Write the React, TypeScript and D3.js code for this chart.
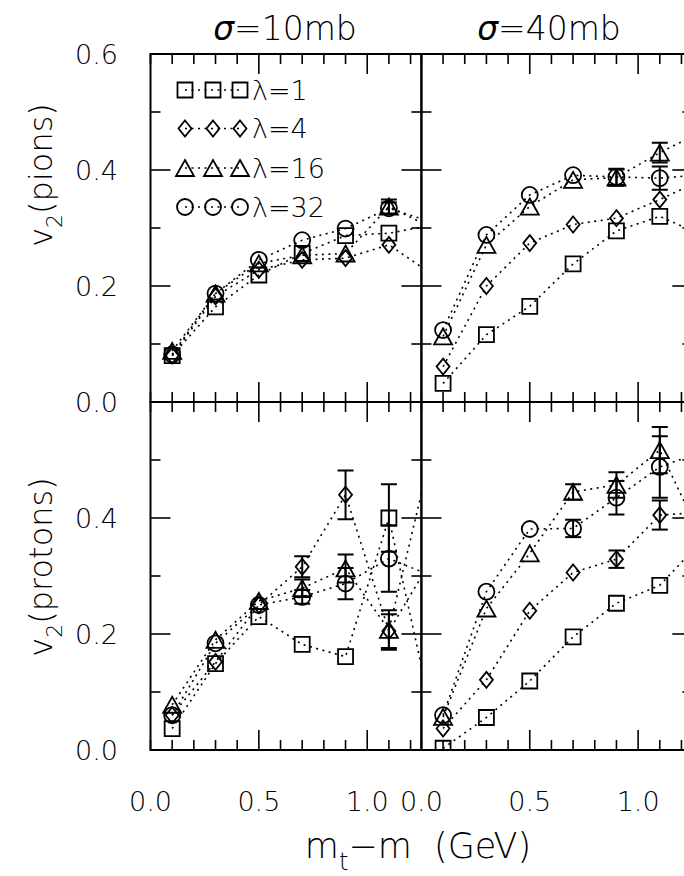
import React from 'react';
import * as d3 from 'd3';

// ---------- data ----------
const mtm = [0.1, 0.3, 0.5, 0.7, 0.9, 1.1, 1.3];
const seriesLabels = ['λ=1', 'λ=4', 'λ=16', 'λ=32'];
const seriesMarkers = ['square', 'diamond', 'triangle', 'circle'];
const sigmaLabels = ['10mb', '40mb'];
const xTickValues = [0, 0.5, 1.0];
const xTickLabels = ['0.0', '0.5', '1.0'];
const yTickValuesTop = [0, 0.2, 0.4, 0.6];
const yTickLabelsTop = ['0.0', '0.2', '0.4', '0.6'];
const yTickValuesBottom = [0, 0.2, 0.4];
const yTickLabelsBottom = ['0.0', '0.2', '0.4'];

// pions, sigma = 10 mb
const pi10_l1 = [0.080, 0.164, 0.219, 0.256, 0.287, 0.291, 0.305];
const pi10_l4 = [0.080, 0.182, 0.228, 0.245, 0.248, 0.271, 0.220];
const pi10_l16 = [0.088, 0.187, 0.239, 0.253, 0.256, 0.337, 0.300];
const pi10_l32 = [0.082, 0.187, 0.245, 0.279, 0.299, 0.334, 0.310];
const pi10_e1 = [0, 0, 0, 0, 0, 0, 0];
const pi10_e4 = [0, 0, 0, 0, 0, 0, 0];
const pi10_e16 = [0, 0, 0, 0, 0, 0.012, 0];
const pi10_e32 = [0, 0, 0, 0, 0, 0.010, 0];

// pions, sigma = 40 mb
const pi40_l1 = [0.032, 0.116, 0.165, 0.238, 0.295, 0.320, 0.287];
const pi40_l4 = [0.061, 0.200, 0.274, 0.306, 0.317, 0.349, 0.384];
const pi40_l16 = [0.113, 0.271, 0.337, 0.383, 0.387, 0.430, 0.467];
const pi40_l32 = [0.124, 0.288, 0.357, 0.391, 0.388, 0.386, 0.392];
const pi40_e1 = [0, 0, 0, 0, 0, 0, 0];
const pi40_e4 = [0, 0, 0, 0, 0, 0, 0];
const pi40_e16 = [0, 0, 0, 0, 0.014, 0.017, 0];
const pi40_e32 = [0, 0, 0, 0, 0.014, 0.020, 0];

// protons, sigma = 10 mb
const pr10_l1 = [0.037, 0.149, 0.230, 0.182, 0.161, 0.400, 0.060];
const pr10_l4 = [0.060, 0.152, 0.250, 0.316, 0.440, 0.205, 0.330];
const pr10_l16 = [0.078, 0.190, 0.257, 0.279, 0.313, 0.207, 0.520];
const pr10_l32 = [0.060, 0.184, 0.250, 0.264, 0.287, 0.330, 0.300];
const pr10_e1 = [0, 0, 0, 0, 0, 0.058, 0];
const pr10_e4 = [0, 0, 0, 0.018, 0.042, 0.029, 0];
const pr10_e16 = [0, 0, 0, 0.015, 0.024, 0.034, 0];
const pr10_e32 = [0, 0, 0, 0.012, 0.027, 0.057, 0];

// protons, sigma = 40 mb
const pr40_l1 = [0.003, 0.056, 0.119, 0.195, 0.253, 0.284, 0.363];
const pr40_l4 = [0.037, 0.121, 0.240, 0.306, 0.329, 0.405, 0.410];
const pr40_l16 = [0.057, 0.244, 0.339, 0.445, 0.457, 0.517, 0.360];
const pr40_l32 = [0.060, 0.273, 0.381, 0.382, 0.435, 0.488, 0.515];
const pr40_e1 = [0, 0, 0, 0, 0, 0, 0];
const pr40_e4 = [0, 0, 0, 0, 0.015, 0.025, 0];
const pr40_e16 = [0, 0, 0, 0.013, 0.022, 0.040, 0];
const pr40_e32 = [0, 0, 0, 0.015, 0.029, 0.053, 0];

// ---------- layout ----------
const W = 684;
const H = 876;
const FONT = "'DejaVu Sans', sans-serif";
const xDomain = [0, 1.25];
const yDomain = [0, 0.6];
const xLeft = d3.scaleLinear().domain(xDomain).range([150.5, 421.4]);
const xRight = d3.scaleLinear().domain(xDomain).range([421.4, 692.3]);
const yTop = d3.scaleLinear().domain(yDomain).range([402, 54]);
const yBot = d3.scaleLinear().domain(yDomain).range([750, 402]);

const panels = [
  { id: 'tl', x: xLeft, y: yTop, vals: [pi10_l1, pi10_l4, pi10_l16, pi10_l32], errs: [pi10_e1, pi10_e4, pi10_e16, pi10_e32] },
  { id: 'tr', x: xRight, y: yTop, vals: [pi40_l1, pi40_l4, pi40_l16, pi40_l32], errs: [pi40_e1, pi40_e4, pi40_e16, pi40_e32] },
  { id: 'bl', x: xLeft, y: yBot, vals: [pr10_l1, pr10_l4, pr10_l16, pr10_l32], errs: [pr10_e1, pr10_e4, pr10_e16, pr10_e32] },
  { id: 'br', x: xRight, y: yBot, vals: [pr40_l1, pr40_l4, pr40_l16, pr40_l32], errs: [pr40_e1, pr40_e4, pr40_e16, pr40_e32] },
];

function markerPath(type: string, cx: number, cy: number): string {
  if (type === 'square') {
    const h = 7.5;
    return `M${cx - h},${cy - h}H${cx + h}V${cy + h}H${cx - h}Z`;
  }
  if (type === 'diamond') {
    const w = 6.5, h = 8;
    return `M${cx},${cy - h}L${cx + w},${cy}L${cx},${cy + h}L${cx - w},${cy}Z`;
  }
  if (type === 'triangle') {
    const w = 9, h = 8;
    return `M${cx},${cy - h}L${cx + w},${cy + h}L${cx - w},${cy + h}Z`;
  }
  const r = 8;
  return `M${cx - r},${cy}A${r},${r} 0 1,0 ${cx + r},${cy}A${r},${r} 0 1,0 ${cx - r},${cy}Z`;
}

const DOT = '2 4.5';

function Panel({ p }: { p: any }) {
  const [x0, x1] = p.x.range();
  const [y0, y1] = p.y.range();
  const line = d3.line<[number, number]>().x(d => p.x(d[0])).y(d => p.y(d[1]));
  const xt = d3.range(0, 13).map(i => i / 10);
  const yt = d3.range(0, 7).map(i => i / 10);
  const isMajorX = (v: number) => Math.abs(v - 0.5) < 1e-6 || Math.abs(v - 1.0) < 1e-6;
  const isMajorY = (v: number) => Math.round(v * 10) % 2 === 0;
  return (
    <g>
      <defs>
        <clipPath id={`clip-${p.id}`}>
          <rect x={x0} y={y1} width={x1 - x0} height={y0 - y1} />
        </clipPath>
      </defs>
      <g clipPath={`url(#clip-${p.id})`}>
        {p.vals.map((vals: number[], si: number) => (
          <path key={`l${si}`} d={line(mtm.map((m, i) => [m, vals[i]]) as any) || ''}
            fill="none" stroke="#000" strokeWidth={1.6} strokeDasharray={DOT} />
        ))}
        {p.vals.map((vals: number[], si: number) => (
          <g key={`e${si}`}>
            {vals.map((v, i) => {
              const e = p.errs[si][i];
              if (!e) return null;
              const cx = p.x(mtm[i]);
              return (
                <g key={i} stroke="#000" strokeWidth={2}>
                  <line x1={cx} x2={cx} y1={p.y(v - e)} y2={p.y(v + e)} />
                  <line x1={cx - 8} x2={cx + 8} y1={p.y(v - e)} y2={p.y(v - e)} />
                  <line x1={cx - 8} x2={cx + 8} y1={p.y(v + e)} y2={p.y(v + e)} />
                </g>
              );
            })}
          </g>
        ))}
        {p.vals.map((vals: number[], si: number) => (
          <g key={`m${si}`}>
            {vals.map((v, i) => (
              <path key={i} d={markerPath(seriesMarkers[si], p.x(mtm[i]), p.y(v))}
                fill="none" stroke="#000" strokeWidth={1.8} />
            ))}
          </g>
        ))}
      </g>
      <rect x={x0} y={y1} width={x1 - x0} height={y0 - y1} fill="none" stroke="#000" strokeWidth={2} />
      <g stroke="#000" strokeWidth={1.6}>
        {xt.map((v, i) => {
          const L = isMajorX(v) ? 20 : 10;
          const xx = p.x(v);
          return (
            <g key={`xt${i}`}>
              <line x1={xx} x2={xx} y1={y0} y2={y0 - L} />
              <line x1={xx} x2={xx} y1={y1} y2={y1 + L} />
            </g>
          );
        })}
        {yt.map((v, i) => {
          const L = isMajorY(v) ? 20 : 10;
          const yy = p.y(v);
          return (
            <g key={`yt${i}`}>
              <line x1={x0} x2={x0 + L} y1={yy} y2={yy} />
              <line x1={x1} x2={x1 - L} y1={yy} y2={yy} />
            </g>
          );
        })}
      </g>
    </g>
  );
}

export default function App() {
  const legendY = [90, 128.5, 168, 207];
  const legendX = [185, 213, 240];
  return (
    <svg width={W} height={H} viewBox={`0 0 ${W} ${H}`}
      style={{ position: 'absolute', left: 0, top: 0, background: '#fff' }}
      fontFamily={FONT} fontWeight={200}>
      <rect x={0} y={0} width={W} height={H} fill="#fff" />
      {panels.map(p => <Panel key={p.id} p={p} />)}

      {/* legend */}
      {seriesLabels.map((lab, si) => (
        <g key={lab}>
          <line x1={legendX[0]} x2={legendX[2]} y1={legendY[si]} y2={legendY[si]}
            stroke="#000" strokeWidth={1.6} strokeDasharray={DOT} />
          {legendX.map((lx, k) => (
            <path key={k} d={markerPath(seriesMarkers[si], lx, legendY[si])} fill="none" stroke="#000" strokeWidth={1.8} />
          ))}
          <text x={252} y={legendY[si]} dy="0.36em" fontSize={27}>{lab}</text>
        </g>
      ))}

      {/* titles */}
      {sigmaLabels.map((s, i) => (
        <text key={s} x={i === 0 ? 285 : 549} y={40} textAnchor="middle" fontSize={33}>
          <tspan fontStyle="italic" fontWeight={400}>σ</tspan>={s}
        </text>
      ))}

      {/* y tick labels */}
      {yTickValuesTop.map((v, i) => (
        <text key={`yt${i}`} x={118} y={yTop(v)} dy="0.36em" textAnchor="end" fontSize={27}>{yTickLabelsTop[i]}</text>
      ))}
      {yTickValuesBottom.map((v, i) => (
        <text key={`yb${i}`} x={118} y={yBot(v)} dy="0.36em" textAnchor="end" fontSize={27}>{yTickLabelsBottom[i]}</text>
      ))}

      {/* x tick labels */}
      {[xLeft, xRight].map((sc, k) => xTickValues.map((v, i) => (
        <text key={`x${k}${i}`} x={sc(v)} y={801} dy="0.36em" textAnchor="middle" fontSize={27}>{xTickLabels[i]}</text>
      )))}

      {/* axis titles */}
      <text x={418} y={858} textAnchor="middle" fontSize={35}>
        m<tspan fontSize={24} dy={12}>t</tspan><tspan dy={-12}>{'\u2212m\u00A0\u00A0(GeV)'}</tspan>
      </text>
      <text transform="translate(52,175) rotate(-90)" textAnchor="middle" fontSize={32}>
        v<tspan fontSize={22} dy={10}>2</tspan><tspan dy={-10}>(pions)</tspan>
      </text>
      <text transform="translate(52,567) rotate(-90)" textAnchor="middle" fontSize={32}>
        v<tspan fontSize={22} dy={10}>2</tspan><tspan dy={-10}>(protons)</tspan>
      </text>
    </svg>
  );
}
